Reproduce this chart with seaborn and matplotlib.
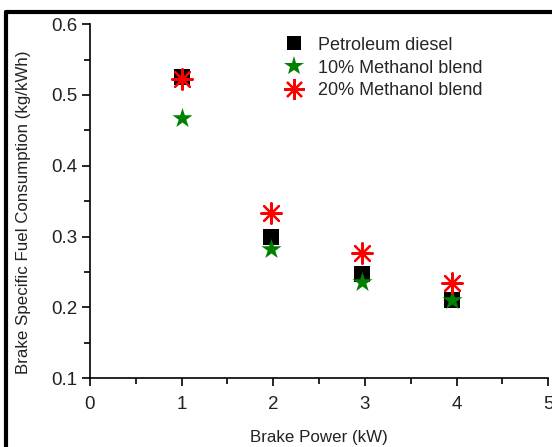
import matplotlib
matplotlib.use("Agg")
import matplotlib.pyplot as plt
from matplotlib.ticker import MultipleLocator
from matplotlib.lines import Line2D
import seaborn as sns
import pandas as pd

series = ["Petroleum diesel", "10% Methanol blend", "20% Methanol blend"]
power_diesel = [1.0, 1.98, 2.97, 3.95]
bsfc_diesel = [0.525, 0.299, 0.247, 0.210]
power_m10 = [1.0, 1.98, 2.97, 3.95]
bsfc_m10 = [0.468, 0.283, 0.236, 0.210]
power_m20 = [1.0, 1.98, 2.97, 3.95]
bsfc_m20 = [0.522, 0.333, 0.277, 0.234]

df = pd.concat([
    pd.DataFrame({"power": power_diesel, "bsfc": bsfc_diesel, "fuel": series[0]}),
    pd.DataFrame({"power": power_m10, "bsfc": bsfc_m10, "fuel": series[1]}),
    pd.DataFrame({"power": power_m20, "bsfc": bsfc_m20, "fuel": series[2]}),
])

sns.set_style("white")
plt.rcParams["font.family"] = ["Liberation Sans", "DejaVu Sans"]

fig = plt.figure(figsize=(5.52, 4.47), dpi=100)
ax = fig.add_axes([0.163, 0.154, 0.830, 0.792])

palette = {series[0]: "black", series[1]: "green", series[2]: "red"}
markers = {series[0]: "s", series[1]: "*", series[2]: (8, 2, 0)}
sizes = {series[0]: 120, series[1]: 230, series[2]: 220}

for name in series:
    sub = df[df["fuel"] == name]
    kw = dict(x="power", y="bsfc", data=sub, color=palette[name], marker=markers[name],
              s=sizes[name], ax=ax, legend=False)
    if name == series[2]:
        kw.update(linewidth=1.6, edgecolor=palette[name])
    else:
        kw.update(linewidth=0)
    sns.scatterplot(**kw)

ax.set_xlim(0, 5)
ax.set_ylim(0.1, 0.6)
ax.xaxis.set_major_locator(MultipleLocator(1))
ax.xaxis.set_minor_locator(MultipleLocator(0.5))
ax.yaxis.set_major_locator(MultipleLocator(0.1))
ax.yaxis.set_minor_locator(MultipleLocator(0.05))
ax.yaxis.set_major_formatter(matplotlib.ticker.FormatStrFormatter("%.1f"))
ax.tick_params(which="major", direction="out", length=6, width=1.2, labelsize=13.5,
               color="black", labelcolor="#222222", bottom=True, left=True)
ax.tick_params(axis="x", which="major", pad=7)
ax.tick_params(axis="y", which="major", pad=3)
ax.tick_params(which="minor", direction="out", length=4, width=1.2, color="black",
               bottom=True, left=True)
for side in ["top", "right"]:
    ax.spines[side].set_visible(False)
for side in ["left", "bottom"]:
    ax.spines[side].set_color("black")
    ax.spines[side].set_linewidth(1.2)

ax.set_xlabel("Brake Power (kW)", fontsize=12.2, color="#222222", labelpad=12)
ax.set_ylabel("Brake Specific Fuel Consumption (kg/kWh)", fontsize=12.2, color="#222222")
ax.yaxis.set_label_coords(-0.129, 0.47)

handles = [
    Line2D([], [], linestyle="none", marker="s", color="black", markersize=10.5, markeredgewidth=0),
    Line2D([], [], linestyle="none", marker="*", color="green", markersize=15, markeredgewidth=0),
    Line2D([], [], linestyle="none", marker=(8, 2, 0), color="red", markeredgecolor="red",
           markersize=15, markeredgewidth=1.6),
]
ax.legend(handles, series, loc="upper left", bbox_to_anchor=(0.395, 1.0), frameon=False,
          fontsize=13, handletextpad=0.7, labelspacing=0.32, borderaxespad=0.3,
          handlelength=1.2)

fig.add_artist(Line2D([0.011, 0.011], [0.0, 0.973], transform=fig.transFigure, color="black", linewidth=3))
fig.add_artist(Line2D([0.011, 1.0], [0.973, 0.973], transform=fig.transFigure, color="black", linewidth=3))

fig.savefig("out.png", dpi=100)
